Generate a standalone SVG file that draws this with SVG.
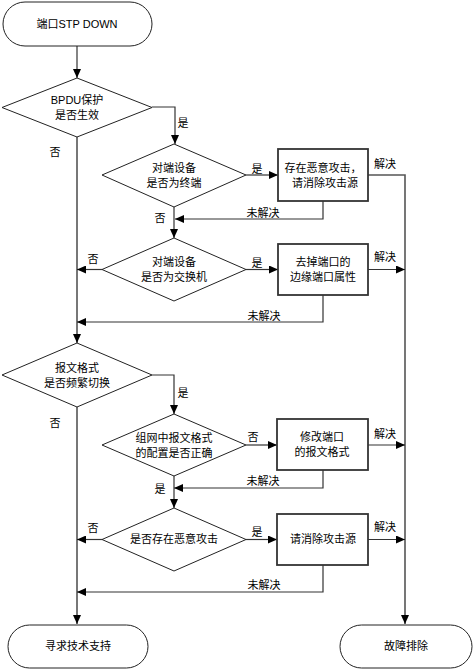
<svg xmlns="http://www.w3.org/2000/svg" width="474" height="670" viewBox="0 0 474 670">
<defs>
<marker id="ar" markerUnits="userSpaceOnUse" markerWidth="9" markerHeight="8" refX="9" refY="4" orient="auto">
<path d="M0,0 L9,4 L0,8 z" fill="#000"/>
</marker>
<style>
.t{font-family:"Liberation Sans","Noto Sans CJK SC",sans-serif;font-size:11px;fill:#000;text-anchor:middle;dominant-baseline:central}
.shape{fill:#fff;stroke:#222;stroke-width:1}
.box{fill:#fff;stroke:#333;stroke-width:1.8}
.c{fill:none;stroke:#333;stroke-width:1.2}
.c2{fill:none;stroke:#555;stroke-width:1.6}
</style>
</defs>
<rect width="474" height="670" fill="#fff"/>
<g id="connectors">
<path class="c" d="M77,46 V78" marker-end="url(#ar)"/>
<path class="c" d="M152,107 H175 V144" marker-end="url(#ar)"/>
<path class="c2" d="M77,137 V343" marker-end="url(#ar)"/>
<path class="c" d="M246,175 H278" marker-end="url(#ar)"/>
<path class="c2" d="M368,175 H405 V624" marker-end="url(#ar)"/>
<path class="c" d="M323,201 V219 H175" marker-end="url(#ar)"/>
<path class="c" d="M174,207 V238" marker-end="url(#ar)"/>
<path class="c" d="M246,269.5 H278" marker-end="url(#ar)"/>
<path class="c" d="M368,269.5 H405" marker-end="url(#ar)"/>
<path class="c" d="M323,295 V322 H77" marker-end="url(#ar)"/>
<path class="c" d="M102,269.5 H77" marker-end="url(#ar)"/>
<path class="c" d="M152,375 H174 V414" marker-end="url(#ar)"/>
<path class="c2" d="M77,407 V624" marker-end="url(#ar)"/>
<path class="c" d="M246,445 H277" marker-end="url(#ar)"/>
<path class="c" d="M368,445 H405" marker-end="url(#ar)"/>
<path class="c" d="M323,470 V488 H174" marker-end="url(#ar)"/>
<path class="c" d="M174,476 V508" marker-end="url(#ar)"/>
<path class="c" d="M246,539.5 H277" marker-end="url(#ar)"/>
<path class="c" d="M368,539.5 H405" marker-end="url(#ar)"/>
<path class="c" d="M102,539.5 H77" marker-end="url(#ar)"/>
<path class="c" d="M323,565 V592 H77" marker-end="url(#ar)"/>
<text class="t" x="183" y="123">是</text>
<text class="t" x="55" y="152">否</text>
<text class="t" x="257" y="169">是</text>
<text class="t" x="385" y="164">解决</text>
<text class="t" x="263" y="213">未解决</text>
<text class="t" x="160" y="218">否</text>
<text class="t" x="257" y="263">是</text>
<text class="t" x="385" y="257">解决</text>
<text class="t" x="93" y="259">否</text>
<text class="t" x="264" y="316">未解决</text>
<text class="t" x="183" y="393">是</text>
<text class="t" x="55" y="423">否</text>
<text class="t" x="253" y="437">否</text>
<text class="t" x="385" y="434">解决</text>
<text class="t" x="263" y="481">未解决</text>
<text class="t" x="160" y="489">是</text>
<text class="t" x="257" y="532">是</text>
<text class="t" x="385" y="527">解决</text>
<text class="t" x="93" y="528">否</text>
<text class="t" x="264" y="585">未解决</text>
</g>
<g id="start">
<rect class="shape" x="3" y="2" width="149" height="44" rx="22"/>
<text class="t" x="77" y="24">端口STP DOWN</text>
</g>
<g id="d1">
<polygon class="shape" points="77,78 152,107.5 77,137 2,107.5"/>
<text class="t" x="77" y="100">BPDU保护</text>
<text class="t" x="77" y="115">是否生效</text>
</g>
<g id="d2">
<polygon class="shape" points="174,144 246,175 174,207 102,175"/>
<text class="t" x="174" y="168">对端设备</text>
<text class="t" x="174" y="183">是否为终端</text>
</g>
<g id="b1">
<rect class="box" x="278" y="149" width="90" height="52"/>
<text class="t" x="323" y="168">存在恶意攻击，</text>
<text class="t" x="325" y="183">请消除攻击源</text>
</g>
<g id="d3">
<polygon class="shape" points="174,238 246,269.5 174,301 102,269.5"/>
<text class="t" x="174" y="262">对端设备</text>
<text class="t" x="174" y="277">是否为交换机</text>
</g>
<g id="b2">
<rect class="box" x="278" y="244" width="90" height="51"/>
<text class="t" x="323" y="262">去掉端口的</text>
<text class="t" x="323" y="277">边缘端口属性</text>
</g>
<g id="d4">
<polygon class="shape" points="77,343 152,375 77,407 2,375"/>
<text class="t" x="77" y="368">报文格式</text>
<text class="t" x="77" y="383">是否频繁切换</text>
</g>
<g id="d5">
<polygon class="shape" points="174,414 246,445 174,476 102,445"/>
<text class="t" x="174" y="438">组网中报文格式</text>
<text class="t" x="174" y="453">的配置是否正确</text>
</g>
<g id="b3">
<rect class="box" x="277" y="419" width="91" height="51"/>
<text class="t" x="322" y="437">修改端口</text>
<text class="t" x="322" y="452">的报文格式</text>
</g>
<g id="d6">
<polygon class="shape" points="174,508 246,539.5 174,571 102,539.5"/>
<text class="t" x="174" y="539">是否存在恶意攻击</text>
</g>
<g id="b4">
<rect class="box" x="277" y="514" width="91" height="51"/>
<text class="t" x="323" y="539">请消除攻击源</text>
</g>
<g id="end1">
<rect class="shape" x="8" y="625" width="140" height="43" rx="21.5"/>
<text class="t" x="78" y="646">寻求技术支持</text>
</g>
<g id="end2">
<rect class="shape" x="340" y="625" width="132" height="43" rx="21.5"/>
<text class="t" x="406" y="646">故障排除</text>
</g>
</svg>
